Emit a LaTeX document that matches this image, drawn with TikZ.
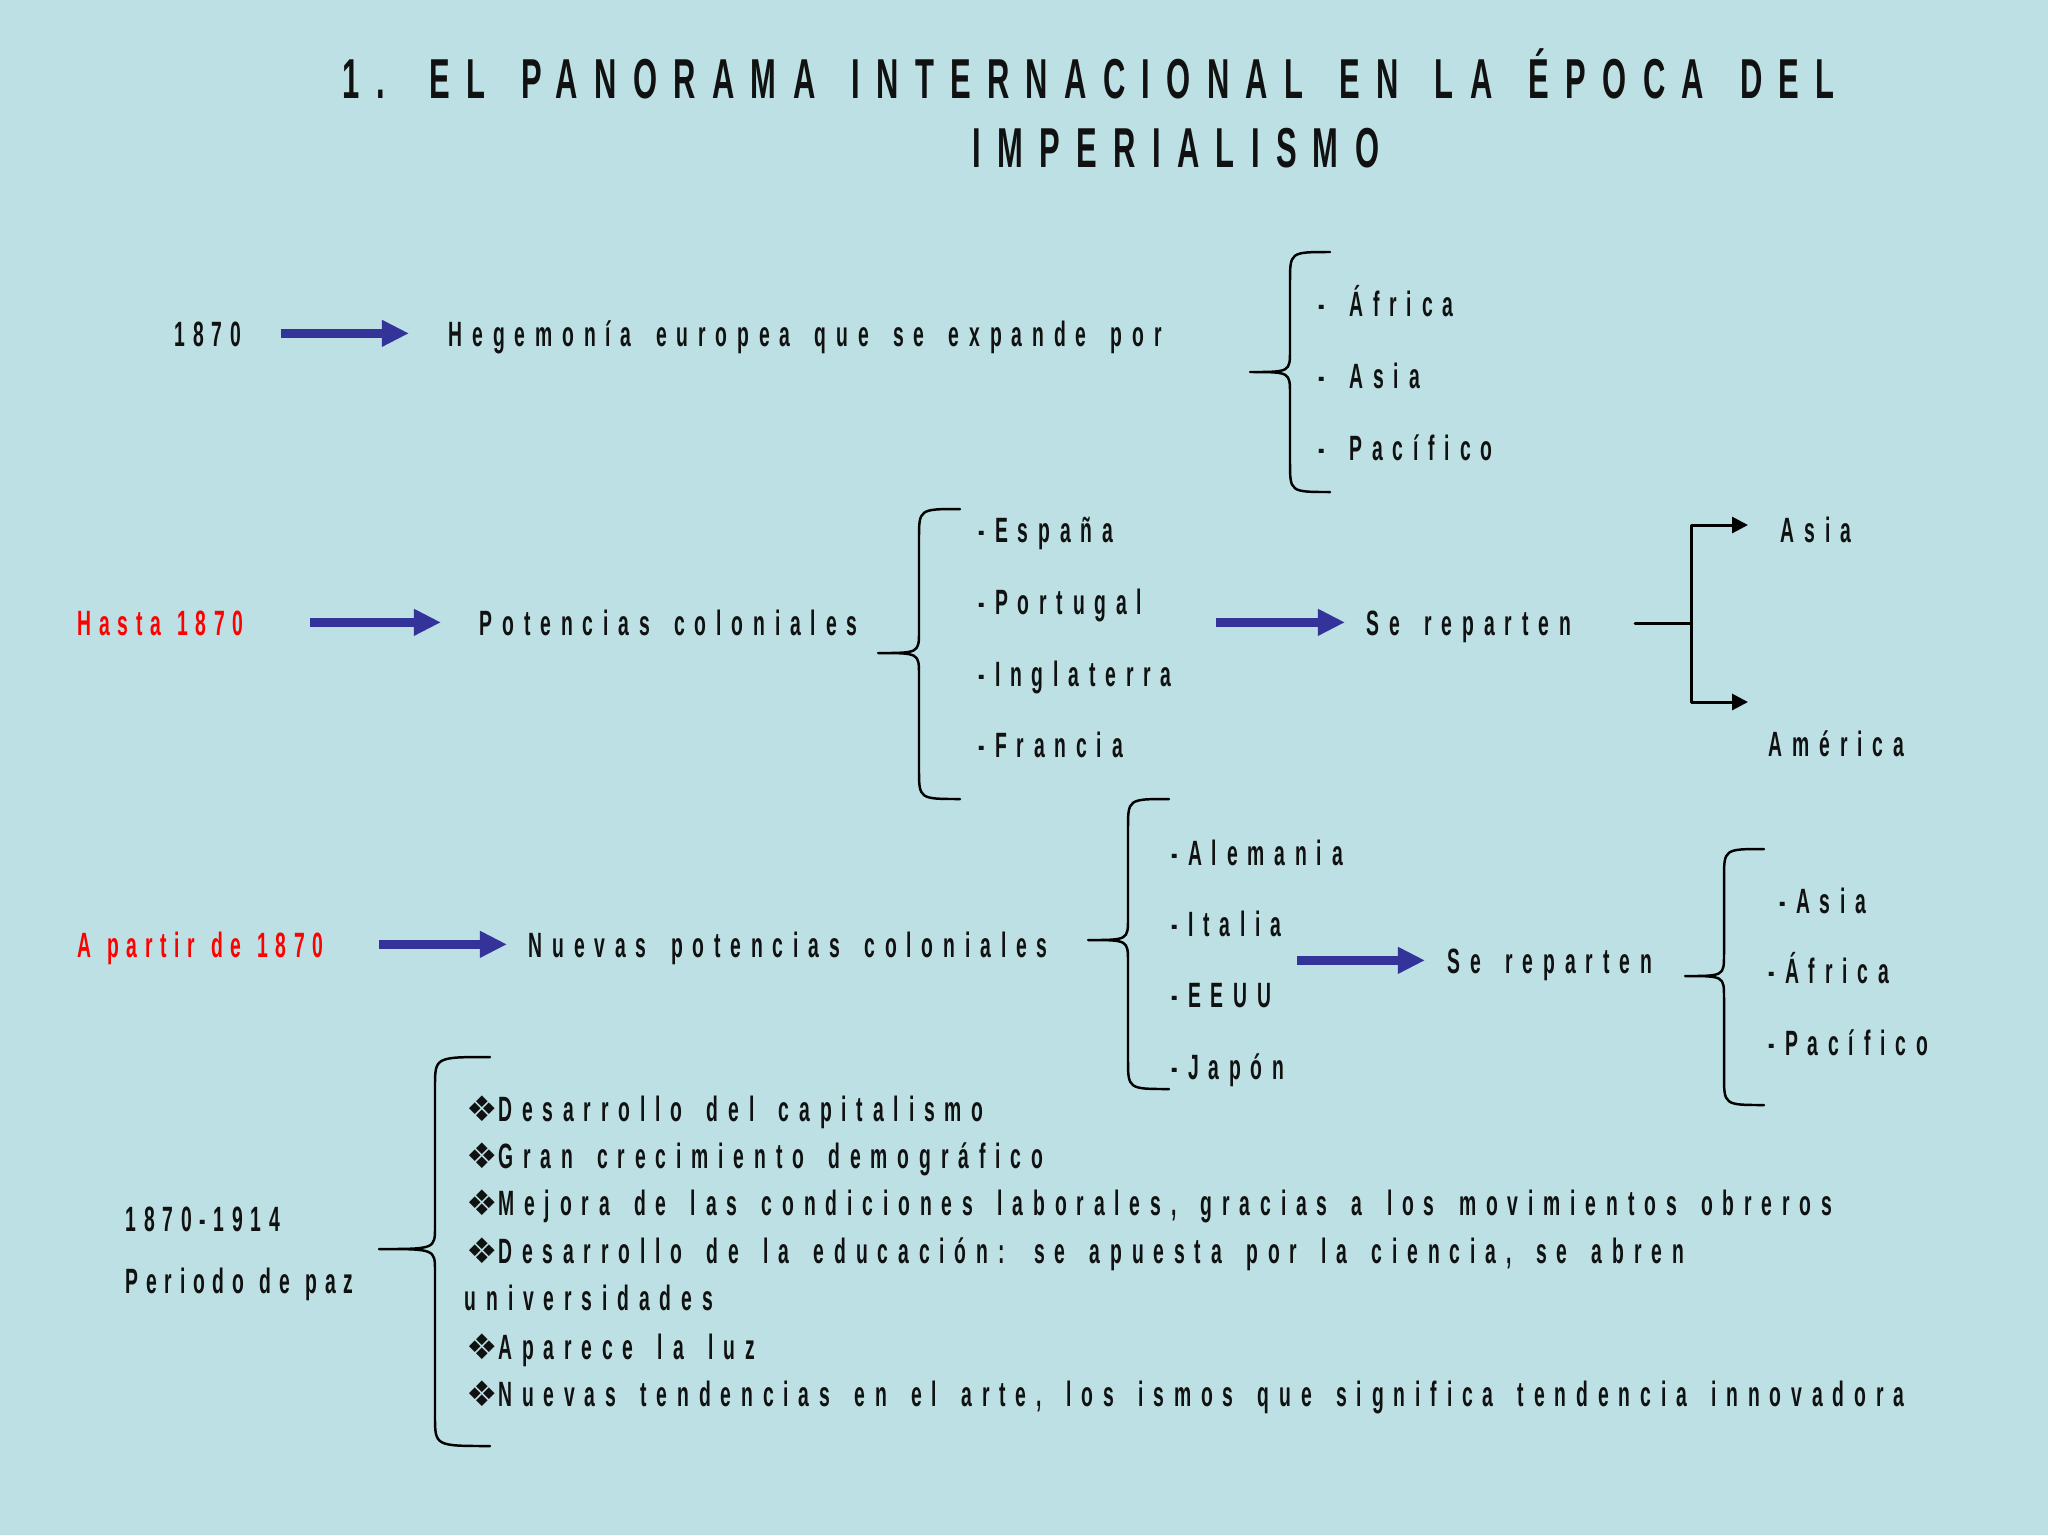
\documentclass[tikz,border=0pt]{standalone}
\usepackage{fontspec}
\setmainfont{Liberation Sans}
\newfontfamily\impfont{Liberation Sans}[FakeStretch=0.55, LetterSpace=28, WordSpace=1.6]
\newfontfamily\imptightfont{Liberation Sans}[FakeStretch=0.55, LetterSpace=22, WordSpace=1.2]
\newfontfamily\imptitlefont{Liberation Sans}[FakeStretch=0.55, LetterSpace=29, WordSpace=1.45]
\newfontfamily\impbullet{DejaVu Sans}
\usepackage{tikz}
\usetikzlibrary{arrows.meta}
\definecolor{impBack}{HTML}{BCE0E3}
\definecolor{impInk}{HTML}{111111}
\definecolor{impBlue}{HTML}{333399}
\definecolor{impRed}{HTML}{FF0000}
\tikzset{
  imp diagram/.style={x=0.01cm, y=-0.01cm, text=impInk,
    font=\impfont\bfseries\fontsize{10}{12}\selectfont,
    line cap=round, line join=round},
  imp text/.style={anchor=base west, inner sep=0pt,
    text height=7.2pt, text depth=0pt},
  imp tight/.style={imp text,
    font=\imptightfont\bfseries\fontsize{10}{12}\selectfont},
  imp red/.style={imp tight, text=impRed},
  imp title/.style={imp text, font=\imptitlefont\bfseries\fontsize{16}{19}\selectfont},
  imp arrow/.style={-{Triangle[length=2.7mm, width=2.5mm]}, draw=impBlue,
    line width=2.6pt, line cap=butt},
  imp tree/.style={draw=black, line width=0.85pt},
  imp tree arrow/.style={imp tree, -{Triangle[length=1.6mm, width=1.6mm]}},
  imp brace/.style={draw=black, line width=0.7pt}
}
\newcommand{\impbrace}[6]{%
  \draw[imp brace] (#3,#4) .. controls (#2,#4) .. (#2,{#4+30})
    -- (#2,{#5-22}) .. controls (#2,#5) .. (#1,#5)
    .. controls (#2,#5) .. (#2,{#5+22})
    -- (#2,{#6-30}) .. controls (#2,#6) .. (#3,#6);}
\newcommand{\impdot}{{\impbullet ❖}}

\begin{document}
\begin{tikzpicture}[imp diagram]
\fill[impBack] (0,0) rectangle (2048,1535);
\node[imp title] (title1) at (342,98) {1. EL PANORAMA INTERNACIONAL EN LA ÉPOCA DEL};
\node[imp title] (title2) at (972,167) {IMPERIALISMO};

\node[imp tight] (y1870) at (174,346) {1870};
\node[imp text] (hegemonia) at (448,346) {Hegemonía europea que se expande por};
\draw[imp arrow, shorten <=0.39cm, shorten >=0.39cm] (y1870.east) -- (hegemonia.west);
\impbrace{1250}{1290}{1330}{252}{372}{492}
\node[imp text] (africa1) at (1318,316) {- África};
\node[imp text] (asia1) at (1318,388) {- Asia};
\node[imp text] (pacifico1) at (1318,460) {- Pacífico};

\node[imp red] (hasta) at (77,635) {Hasta 1870};
\node[imp text] (potencias) at (479,635) {Potencias coloniales};
\draw[imp arrow, shorten <=0.66cm, shorten >=0.38cm] (hasta.east) -- (potencias.west);
\impbrace{878}{919}{960}{509}{653}{799}
\node[imp text] (espana) at (978,542) {-España};
\node[imp text] (portugal) at (978,614) {-Portugal};
\node[imp text] (inglaterra) at (978,686) {-Inglaterra};
\node[imp text] (francia) at (978,757) {-Francia};
\node[imp text] (reparten1) at (1366,635) {Se reparten};
\coordinate (col1) at (1216,622);
\draw[imp arrow, shorten >=0.21cm] (col1 |- reparten1.west) -- (reparten1.west);
\coordinate (forkin) at (1635,623);
\coordinate (fork) at (1691,623);
\coordinate (asiatip) at (1748,525);
\coordinate (americatip) at (1748,702);
\draw[imp tree] (forkin) -- (fork);
\draw[imp tree arrow] (fork) |- (asiatip);
\draw[imp tree arrow] (fork) |- (americatip);
\node[imp text] (asia2) at (1780,542) {Asia};
\node[imp text] (america) at (1768,756) {América};

\node[imp red] (apartir) at (77,957) {A partir de 1870};
\node[imp text] (nuevas) at (528,957) {Nuevas potencias coloniales};
\draw[imp arrow, shorten <=0.55cm, shorten >=0.21cm] (apartir.east) -- (nuevas.west);
\impbrace{1088}{1128}{1169}{799}{940}{1089}
\node[imp text] (alemania) at (1171,865) {-Alemania};
\node[imp text] (italia) at (1171,936) {-Italia};
\node[imp text] (eeuu) at (1171,1007) {-EEUU};
\node[imp text] (japon) at (1171,1079) {-Japón};
\node[imp text] (reparten2) at (1447,973) {Se reparten};
\coordinate (col2) at (1297,960);
\draw[imp arrow, shorten >=0.22cm] (col2 |- reparten2.west) -- (reparten2.west);
\impbrace{1685}{1724}{1764}{849}{976}{1105}
\node[imp text] (asia3) at (1779,913) {-Asia};
\node[imp text] (africa3) at (1768,983) {-África};
\node[imp text] (pacifico3) at (1768,1055) {-Pacífico};

\node[imp tight] (fechas) at (125,1231) {1870-1914};
\node[imp tight] (paz) at (125,1293) {Periodo de paz};
\impbrace{379}{435}{490}{1057}{1249}{1446}
\node[imp text] (capitalismo) at (466,1121) {\impdot Desarrollo del capitalismo};
\node[imp text] (demografia) at (466,1168) {\impdot Gran crecimiento demográfico};
\node[imp text] (laboral) at (466,1215) {\impdot Mejora de las condiciones laborales, gracias a los movimientos obreros};
\node[imp text] (educacion) at (466,1263) {\impdot Desarrollo de la educación: se apuesta por la ciencia, se abren};
\node[imp text] (universidad) at (464,1310) {universidades};
\node[imp text] (luz) at (466,1359) {\impdot Aparece la luz};
\node[imp text] (arte) at (466,1406) {\impdot Nuevas tendencias en el arte, los ismos que significa tendencia innovadora};
\end{tikzpicture}
\end{document}
